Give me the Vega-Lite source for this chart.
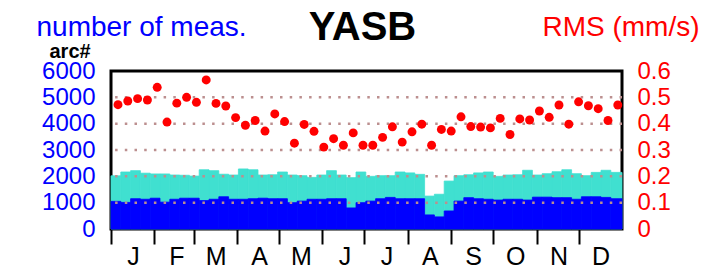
{
  "$schema": "https://vega.github.io/schema/vega-lite/v6.json",
  "width": 511,
  "height": 158,
  "autosize": {"type": "none"},
  "padding": {"left": 111, "top": 71, "right": 81, "bottom": 40},
  "background": "white",
  "config": {
    "font": "Liberation Sans",
    "view": {"stroke": "black", "strokeWidth": 3},
    "axisLeft": {"tickCount": 7, "labelOverlap": false, "labelFlush": false}
  },
  "datasets": {
    "weeks": [
      {"s": 0, "e": 7, "m": 5, "total": 2020, "arc": 1050, "rms": 0.472},
      {"s": 7, "e": 14, "m": 12, "total": 2165, "arc": 1010, "rms": 0.486},
      {"s": 14, "e": 21, "m": 19, "total": 2215, "arc": 1150, "rms": 0.495},
      {"s": 21, "e": 28, "m": 26, "total": 2120, "arc": 1130, "rms": 0.490},
      {"s": 28, "e": 35, "m": 33, "total": 2090, "arc": 1170, "rms": 0.538},
      {"s": 35, "e": 42, "m": 40, "total": 2090, "arc": 1020, "rms": 0.406},
      {"s": 42, "e": 49, "m": 47, "total": 2050, "arc": 1130, "rms": 0.478},
      {"s": 49, "e": 56, "m": 54, "total": 2040, "arc": 1170, "rms": 0.500},
      {"s": 56, "e": 63, "m": 61, "total": 2010, "arc": 1170, "rms": 0.481},
      {"s": 63, "e": 70, "m": 68, "total": 2250, "arc": 1080, "rms": 0.566},
      {"s": 70, "e": 77, "m": 75, "total": 2215, "arc": 1130, "rms": 0.477},
      {"s": 77, "e": 84, "m": 82, "total": 2080, "arc": 1225, "rms": 0.467},
      {"s": 84, "e": 91, "m": 89, "total": 2050, "arc": 1130, "rms": 0.423},
      {"s": 91, "e": 98, "m": 96, "total": 2280, "arc": 1130, "rms": 0.394},
      {"s": 98, "e": 105, "m": 103, "total": 2250, "arc": 1150, "rms": 0.412},
      {"s": 105, "e": 112, "m": 110, "total": 2050, "arc": 1170, "rms": 0.372},
      {"s": 112, "e": 119, "m": 117, "total": 2060, "arc": 1150, "rms": 0.437},
      {"s": 119, "e": 126, "m": 124, "total": 2165, "arc": 1150, "rms": 0.408},
      {"s": 126, "e": 133, "m": 131, "total": 2050, "arc": 1000, "rms": 0.326},
      {"s": 133, "e": 140, "m": 138, "total": 2025, "arc": 1060, "rms": 0.397},
      {"s": 140, "e": 147, "m": 145, "total": 1960, "arc": 1130, "rms": 0.371},
      {"s": 147, "e": 154, "m": 152, "total": 2050, "arc": 1130, "rms": 0.311},
      {"s": 154, "e": 161, "m": 159, "total": 2215, "arc": 1150, "rms": 0.343},
      {"s": 161, "e": 168, "m": 166, "total": 2050, "arc": 1150, "rms": 0.318},
      {"s": 168, "e": 175, "m": 173, "total": 1950, "arc": 800, "rms": 0.365},
      {"s": 175, "e": 182, "m": 180, "total": 2165, "arc": 1000, "rms": 0.318},
      {"s": 182, "e": 189, "m": 187, "total": 2000, "arc": 1060, "rms": 0.318},
      {"s": 189, "e": 196, "m": 194, "total": 2025, "arc": 1150, "rms": 0.348},
      {"s": 196, "e": 203, "m": 201, "total": 2025, "arc": 1200, "rms": 0.388},
      {"s": 203, "e": 210, "m": 208, "total": 2165, "arc": 1150, "rms": 0.330},
      {"s": 210, "e": 217, "m": 215, "total": 2130, "arc": 1150, "rms": 0.369},
      {"s": 217, "e": 224, "m": 222, "total": 2075, "arc": 1150, "rms": 0.398},
      {"s": 224, "e": 231, "m": 229, "total": 1250, "arc": 535, "rms": 0.318},
      {"s": 231, "e": 238, "m": 236, "total": 1320, "arc": 460, "rms": 0.378},
      {"s": 238, "e": 245, "m": 243, "total": 1820, "arc": 685, "rms": 0.372},
      {"s": 245, "e": 252, "m": 250, "total": 2025, "arc": 1060, "rms": 0.426},
      {"s": 252, "e": 259, "m": 257, "total": 2060, "arc": 1190, "rms": 0.389},
      {"s": 259, "e": 266, "m": 264, "total": 2130, "arc": 1150, "rms": 0.387},
      {"s": 266, "e": 273, "m": 271, "total": 2165, "arc": 1130, "rms": 0.384},
      {"s": 273, "e": 280, "m": 278, "total": 2000, "arc": 1100, "rms": 0.420},
      {"s": 280, "e": 287, "m": 285, "total": 2050, "arc": 1130, "rms": 0.359},
      {"s": 287, "e": 294, "m": 292, "total": 2060, "arc": 1130, "rms": 0.418},
      {"s": 294, "e": 301, "m": 299, "total": 2230, "arc": 1100, "rms": 0.414},
      {"s": 301, "e": 308, "m": 306, "total": 2050, "arc": 1210, "rms": 0.448},
      {"s": 308, "e": 315, "m": 313, "total": 2100, "arc": 1210, "rms": 0.424},
      {"s": 315, "e": 322, "m": 320, "total": 2175, "arc": 1190, "rms": 0.471},
      {"s": 322, "e": 329, "m": 327, "total": 2250, "arc": 1190, "rms": 0.398},
      {"s": 329, "e": 336, "m": 334, "total": 2100, "arc": 1130, "rms": 0.483},
      {"s": 336, "e": 343, "m": 341, "total": 2025, "arc": 1225, "rms": 0.468},
      {"s": 343, "e": 350, "m": 348, "total": 2150, "arc": 1225, "rms": 0.457},
      {"s": 350, "e": 357, "m": 355, "total": 2230, "arc": 1200, "rms": 0.412},
      {"s": 357, "e": 365, "m": 362, "total": 2150, "arc": 1150, "rms": 0.471}
    ],
    "grid": [{"g": 1000}, {"g": 2000}, {"g": 3000}, {"g": 4000}, {"g": 5000}]
  },
  "layer": [
    {
      "layer": [
        {
          "data": {"name": "weeks"},
          "mark": {"type": "rect", "color": "#40e0d0", "stroke": "#40e0d0", "strokeWidth": 0.8},
          "encoding": {
            "x": {
              "field": "s", "type": "quantitative",
              "scale": {"domain": [0, 365], "nice": false, "zero": false},
              "axis": {
                "orient": "bottom",
                "values": [0, 31, 59, 90, 120, 151, 181, 212, 243, 273, 304, 334],
                "labelExpr": "['J','F','M','A','M','J','J','A','S','O','N','D'][indexof([0,31,59,90,120,151,181,212,243,273,304,334], datum.value)]",
                "labelOffset": 22,
                "labelFontSize": 25,
                "labelColor": "black",
                "labelPadding": 0,
                "labelOverlap": false,
                "labelFlush": false,
                "tickSize": 15,
                "tickWidth": 2,
                "tickColor": "black",
                "domain": false,
                "grid": false,
                "title": "arc#",
                "titleFontSize": 20,
                "titleFontWeight": "bold",
                "titleColor": "black",
                "titleAlign": "left",
                "titleBaseline": "alphabetic",
                "titleAnchor": "start",
                "titleX": -62,
                "titleY": -172
              }
            },
            "x2": {"field": "e"},
            "y": {
              "field": "total", "type": "quantitative",
              "scale": {"domain": [0, 6000], "nice": false},
              "axis": {
                "orient": "left",
                "values": [0, 1000, 2000, 3000, 4000, 5000, 6000],
                "format": "d",
                "labelColor": "#0000ff",
                "labelFontSize": 24,
                "labelPadding": 16,
                "labelOverlap": false,
                "labelFlush": false,
                "ticks": false,
                "domain": false,
                "grid": false,
                "title": "number of meas.",
                "titleFontSize": 28,
                "titleFontWeight": "normal",
                "titleColor": "#0000ff",
                "titleAngle": 0,
                "titleAlign": "left",
                "titleBaseline": "alphabetic",
                "titleX": -75,
                "titleY": -36
              }
            },
            "y2": {"datum": 0}
          }
        },
        {
          "data": {"name": "weeks"},
          "mark": {"type": "rect", "color": "#0000ff", "stroke": "#0000ff", "strokeWidth": 0.8},
          "encoding": {
            "x": {"field": "s", "type": "quantitative"},
            "x2": {"field": "e"},
            "y": {"field": "arc", "type": "quantitative"},
            "y2": {"datum": 0}
          }
        },
        {
          "data": {"name": "grid"},
          "mark": {"type": "rule", "color": "#bc8f8f", "strokeWidth": 2.5, "strokeDash": [2.5, 7.2]},
          "encoding": {
            "y": {"field": "g", "type": "quantitative"}
          }
        }
      ]
    },
    {
      "data": {"name": "weeks"},
      "mark": {"type": "point", "filled": true, "opacity": 1, "color": "#ff0000", "size": 80},
      "encoding": {
        "x": {
          "field": "m", "type": "quantitative",
          "axis": {
            "orient": "top",
            "labels": false,
            "ticks": false,
            "domain": false,
            "grid": false,
            "title": "YASB",
            "titleFontSize": 40,
            "titleFontWeight": "bold",
            "titleColor": "black",
            "titleAlign": "center",
            "titleBaseline": "alphabetic",
            "titleAnchor": "start",
            "titleX": 251,
            "titleY": -32
          }
        },
        "y": {
          "field": "rms", "type": "quantitative",
          "scale": {"domain": [0, 0.6], "nice": false},
          "axis": {
            "orient": "right",
            "values": [0, 0.1, 0.2, 0.3, 0.4, 0.5, 0.6],
            "format": ".1~f",
            "labelColor": "#ff0000",
            "labelFontSize": 24,
            "labelPadding": 15,
            "labelOverlap": false,
            "labelFlush": false,
            "ticks": false,
            "domain": false,
            "grid": false,
            "title": "RMS (mm/s)",
            "titleFontSize": 28,
            "titleFontWeight": "normal",
            "titleColor": "#ff0000",
            "titleAngle": 0,
            "titleAlign": "right",
            "titleBaseline": "alphabetic",
            "titleX": 77,
            "titleY": -36
          }
        }
      }
    }
  ],
  "resolve": {"scale": {"y": "independent"}, "axis": {"x": "independent"}}
}
